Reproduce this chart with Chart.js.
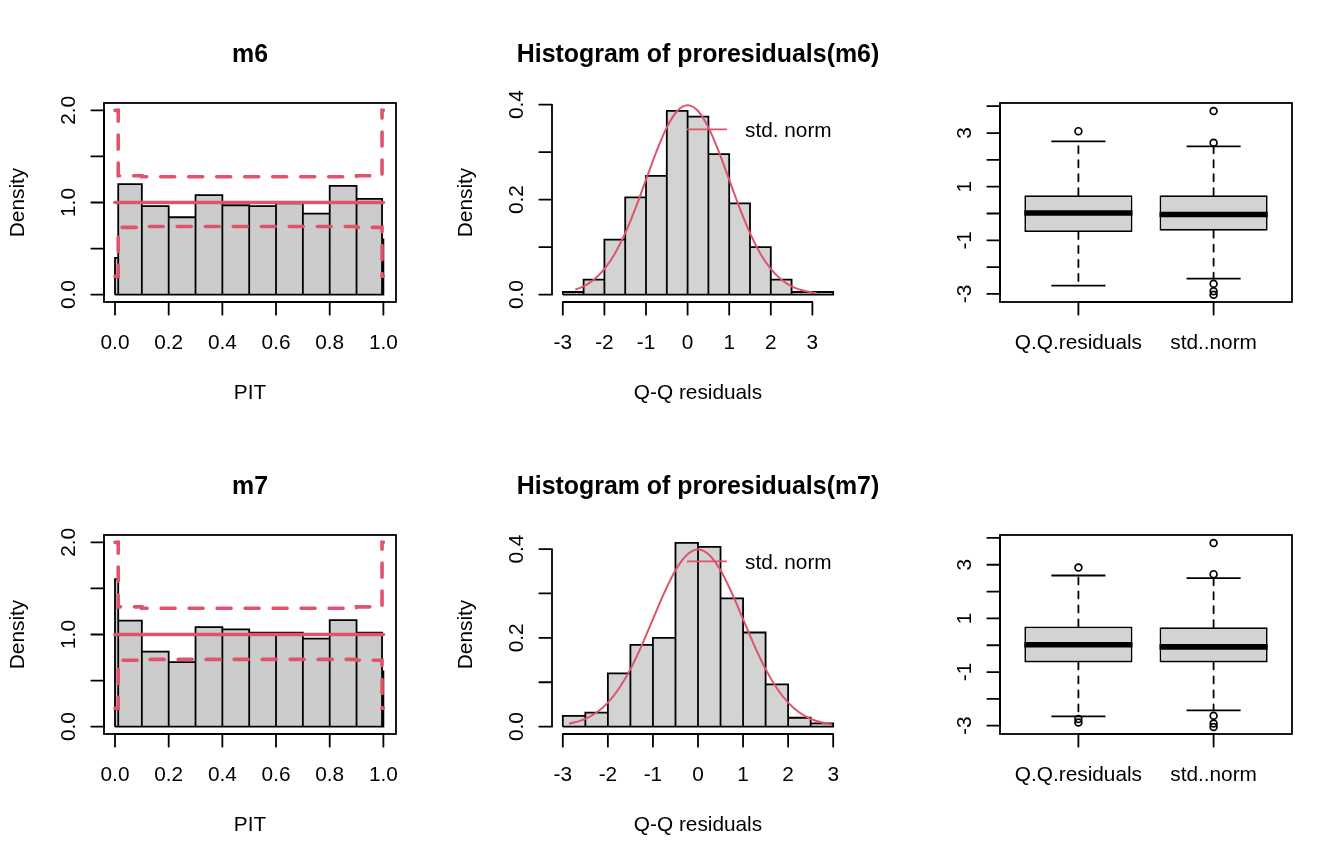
<!DOCTYPE html>
<html>
<head>
<meta charset="utf-8">
<script src="https://cdn.jsdelivr.net/npm/chart.js@4.4.1/dist/chart.umd.min.js"></script>
<style>
  html, body { margin: 0; padding: 0; background: #fff; }
  #page { position: relative; width: 1344px; height: 864px; }
  #page canvas { position: absolute; }
</style>
</head>
<body>
<div id="page">
  <canvas id="pit6" width="448" height="432" style="left:0px;top:0px"></canvas>
  <canvas id="hist6" width="448" height="432" style="left:448px;top:0px"></canvas>
  <canvas id="box6" width="448" height="432" style="left:896px;top:0px"></canvas>
  <canvas id="pit7" width="448" height="432" style="left:0px;top:432px"></canvas>
  <canvas id="hist7" width="448" height="432" style="left:448px;top:432px"></canvas>
  <canvas id="box7" width="448" height="432" style="left:896px;top:432px"></canvas>
</div>
<script>
// ---- PIT histograms ----
const pitBreaks = [0, 0.012, 0.1, 0.2, 0.3, 0.4, 0.5, 0.6, 0.7, 0.8, 0.9, 0.995, 1.0];
const pitDensityM6 = [0.40, 1.20, 0.96, 0.84, 1.08, 0.97, 0.96, 0.99, 0.88, 1.18, 1.04, 0.60];
const pitUpperM6 = [2.0, 1.29, 1.28, 1.28, 1.28, 1.28, 1.28, 1.28, 1.28, 1.28, 1.29, 2.0];
const pitLowerM6 = [0.2, 0.73, 0.74, 0.74, 0.74, 0.74, 0.74, 0.74, 0.74, 0.74, 0.73, 0.2];
const pitDensityM7 = [1.60, 1.15, 0.815, 0.70, 1.08, 1.055, 1.02, 1.02, 0.955, 1.155, 1.02, 0.60];
const pitUpperM7 = [2.0, 1.30, 1.285, 1.285, 1.285, 1.285, 1.285, 1.285, 1.285, 1.285, 1.30, 2.0];
const pitLowerM7 = [0.2, 0.72, 0.73, 0.73, 0.73, 0.73, 0.73, 0.73, 0.73, 0.73, 0.72, 0.2];
const pitRef = 1.0;
const pitTicks = [0, 0.2, 0.4, 0.6, 0.8, 1.0];
const pitTickLabels = ['0.0', '0.2', '0.4', '0.6', '0.8', '1.0'];
const pitDensTicks = [0, 0.5, 1.0, 1.5, 2.0];
const pitDensLabels = ['0.0', '', '1.0', '', '2.0'];

// ---- residual histograms ----
const histBreaksM6 = [-3, -2.5, -2, -1.5, -1, -0.5, 0, 0.5, 1, 1.5, 2, 2.5, 3, 3.5];
const histDensityM6 = [0.0056, 0.0316, 0.116, 0.205, 0.250, 0.387, 0.375, 0.296, 0.192, 0.100, 0.0316, 0.0056, 0.0056];
const histBreaksM7 = [-3, -2.5, -2, -1.5, -1, -0.5, 0, 0.5, 1, 1.5, 2, 2.5, 3];
const histDensityM7 = [0.024, 0.0315, 0.120, 0.184, 0.200, 0.414, 0.405, 0.289, 0.212, 0.095, 0.020, 0.0075];
const normXM6 = [-2.7, -2.5, -2.25, -2, -1.75, -1.5, -1.25, -1, -0.75, -0.5, -0.25, 0, 0.25, 0.5, 0.75, 1, 1.25, 1.5, 1.75, 2, 2.25, 2.5, 2.75, 3, 3.1];
const normYM6 = [0.0104, 0.0175, 0.0317, 0.054, 0.0863, 0.1295, 0.1826, 0.242, 0.3011, 0.3521, 0.3867, 0.3989, 0.3867, 0.3521, 0.3011, 0.242, 0.1826, 0.1295, 0.0863, 0.054, 0.0317, 0.0175, 0.0091, 0.0044, 0.0033];
const normXM7 = [-2.86, -2.75, -2.5, -2.25, -2, -1.75, -1.5, -1.25, -1, -0.75, -0.5, -0.25, 0, 0.25, 0.5, 0.75, 1, 1.25, 1.5, 1.75, 2, 2.25, 2.5, 2.75, 2.97];
const normYM7 = [0.0067, 0.0091, 0.0175, 0.0317, 0.054, 0.0863, 0.1295, 0.1826, 0.242, 0.3011, 0.3521, 0.3867, 0.3989, 0.3867, 0.3521, 0.3011, 0.242, 0.1826, 0.1295, 0.0863, 0.054, 0.0317, 0.0175, 0.0091, 0.0048];
const residTicks = [-3, -2, -1, 0, 1, 2, 3];
const residTickLabels = ['-3', '-2', '-1', '0', '1', '2', '3'];
const histDensTicks = [0, 0.1, 0.2, 0.3, 0.4];
const histDensLabels = ['0.0', '', '0.2', '', '0.4'];

// ---- boxplots ----
const boxGroups = ['Q.Q.residuals', 'std..norm'];
const boxPos = [1, 2];
const boxLoM6 = [-2.69, -2.43];
const boxQ1M6 = [-0.69, -0.64];
const boxMedM6 = [0.02, -0.04];
const boxQ3M6 = [0.68, 0.68];
const boxHiM6 = [2.69, 2.50];
const boxOutM6 = [[3.07], [3.82, 2.64, -2.62, -2.90, -3.03]];
const boxLoM7 = [-2.65, -2.43];
const boxQ1M7 = [-0.64, -0.64];
const boxMedM7 = [0.02, -0.06];
const boxQ3M7 = [0.70, 0.67];
const boxHiM7 = [2.60, 2.50];
const boxOutM7 = [[2.90, -2.75, -2.88], [3.81, 2.65, -2.63, -2.92, -3.05]];
const boxTicks = [-3, -2, -1, 0, 1, 2, 3, 4];
const boxTickLabels = ['-3', '', '-1', '', '1', '', '3', ''];

const RED = '#DF536B';
const LWD = 1.8;
const TCL = 12.7;
const FAMILY = '"Liberation Sans", Arial, Helvetica, sans-serif';

function rAxes(spec) {
  return {
    id: 'rAxes',
    afterDraw(chart) {
      const { ctx, chartArea: a, scales: { x, y } } = chart;
      ctx.save();
      ctx.strokeStyle = '#000';
      ctx.fillStyle = '#000';
      ctx.lineWidth = LWD;
      ctx.lineCap = 'round';
      if (spec.box) ctx.strokeRect(a.left, a.top, a.right - a.left, a.bottom - a.top);

      const xs = spec.xTicks.map(v => x.getPixelForValue(v));
      const ys = spec.yTicks.map(v => y.getPixelForValue(v));
      ctx.beginPath();
      ctx.moveTo(xs[0], a.bottom); ctx.lineTo(xs[xs.length - 1], a.bottom);
      xs.forEach(px => { ctx.moveTo(px, a.bottom); ctx.lineTo(px, a.bottom + TCL); });
      ctx.moveTo(a.left, ys[0]); ctx.lineTo(a.left, ys[ys.length - 1]);
      ys.forEach(py => { ctx.moveTo(a.left, py); ctx.lineTo(a.left - TCL, py); });
      ctx.stroke();

      ctx.font = '20.8px ' + FAMILY;
      ctx.textAlign = 'center';
      ctx.textBaseline = 'alphabetic';
      xs.forEach((px, i) => ctx.fillText(spec.xLabels[i], px, a.bottom + 46.5));
      ys.forEach((py, i) => {
        if (!spec.yLabels[i]) return;
        ctx.save();
        ctx.translate(a.left - 29, py);
        ctx.rotate(-Math.PI / 2);
        ctx.fillText(spec.yLabels[i], 0, 0);
        ctx.restore();
      });
      const cx = (a.left + a.right) / 2, cy = (a.top + a.bottom) / 2;
      if (spec.xTitle) ctx.fillText(spec.xTitle, cx, a.bottom + 96.5);
      if (spec.yTitle) {
        ctx.save();
        ctx.translate(a.left - 80.5, cy);
        ctx.rotate(-Math.PI / 2);
        ctx.fillText(spec.yTitle, 0, 0);
        ctx.restore();
      }
      if (spec.legend) {
        ctx.strokeStyle = RED;
        ctx.lineCap = 'butt';
        ctx.beginPath();
        ctx.moveTo(a.right - 157, a.top + 26.3);
        ctx.lineTo(a.right - 117, a.top + 26.3);
        ctx.stroke();
        ctx.textAlign = 'left';
        ctx.fillText(spec.legend, a.right - 99, a.top + 33.7);
      }
      if (spec.title) {
        ctx.font = 'bold 24.9px ' + FAMILY;
        ctx.textAlign = 'center';
        ctx.fillText(spec.title, cx, a.top - 41.3);
      }
      ctx.restore();
    }
  };
}

function histOutline(breaks, dens) {
  const pts = [{ x: breaks[0], y: 0 }];
  dens.forEach((d, i) => {
    pts.push({ x: breaks[i], y: d }, { x: breaks[i + 1], y: d }, { x: breaks[i + 1], y: 0 });
  });
  pts.push({ x: breaks[0], y: 0 });
  return pts;
}

function stepPoints(breaks, vals) {
  return breaks.map((b, i) => ({ x: b, y: vals[Math.min(i, vals.length - 1)] }));
}

function histDatasets(breaks, dens, fill) {
  return [
    { data: histOutline(breaks, dens), borderColor: '#000', borderWidth: LWD, fill: false },
    { data: stepPoints(breaks, dens), stepped: true, fill: 'origin', backgroundColor: fill, borderWidth: 0 }
  ];
}

function boxDatasets(lo, q1, med, q3, hi, out) {
  const whisk = [], caps = [], meds = [], pts = [];
  boxPos.forEach((p, i) => {
    whisk.push({ x: p, y: q3[i] }, { x: p, y: hi[i] }, { x: p, y: null },
               { x: p, y: q1[i] }, { x: p, y: lo[i] }, { x: p, y: null });
    caps.push({ x: p - 0.2, y: hi[i] }, { x: p + 0.2, y: hi[i] }, { x: p, y: null },
              { x: p - 0.2, y: lo[i] }, { x: p + 0.2, y: lo[i] }, { x: p, y: null });
    meds.push({ x: p - 0.4, y: med[i] }, { x: p + 0.4, y: med[i] }, { x: p, y: null });
    out[i].forEach(v => pts.push({ x: p, y: v }));
  });
  return [
    { data: pts, showLine: false, pointRadius: 3.4, pointBorderWidth: 1.7,
      pointBorderColor: '#000', pointBackgroundColor: 'rgba(0,0,0,0)' },
    { data: caps, borderColor: '#000', borderWidth: LWD },
    { data: meds, borderColor: '#000', borderWidth: 5.6, borderCapStyle: 'butt' },
    { type: 'bar', data: boxPos.map((p, i) => ({ x: p, y: [q1[i], q3[i]] })),
      backgroundColor: '#D3D3D3', borderColor: '#000', borderWidth: LWD, borderSkipped: false,
      grouped: false, categoryPercentage: 1, barPercentage: 0.8 },
    { data: whisk, borderColor: '#000', borderWidth: LWD, borderDash: [7, 7], borderCapStyle: 'round' }
  ];
}

function pitDatasets(dens, upper, lower) {
  const dashed = { borderColor: RED, borderWidth: 3.6, borderDash: [14, 14], borderCapStyle: 'round', stepped: true };
  return [
    Object.assign({ data: stepPoints(pitBreaks, upper) }, dashed),
    Object.assign({ data: stepPoints(pitBreaks, lower) }, dashed),
    { data: [{ x: pitBreaks[0], y: pitRef }, { x: pitBreaks[pitBreaks.length - 1], y: pitRef }],
      borderColor: RED, borderWidth: 3.6, borderCapStyle: 'round' },
    ...histDatasets(pitBreaks, dens, '#CCCCCC')
  ];
}

function normDataset(xs, ys) {
  return { data: xs.map((v, i) => ({ x: v, y: ys[i] })), borderColor: RED, borderWidth: 2,
           cubicInterpolationMode: 'monotone' };
}

function makeChart(id, datasets, xr, yr, spec) {
  return new Chart(document.getElementById(id), {
    type: 'line',
    data: { datasets },
    options: {
      responsive: false,
      animation: false,
      layout: { padding: { left: 104, right: 52, top: 103, bottom: 130 } },
      scales: {
        x: { type: 'linear', display: false, offset: false, min: xr[0], max: xr[1],
             afterBuildTicks: s => { s.ticks = spec.xTicks.map(v => ({ value: v })); } },
        y: { type: 'linear', display: false, min: yr[0], max: yr[1] }
      },
      elements: { point: { radius: 0 }, line: { tension: 0 } },
      plugins: { legend: { display: false }, tooltip: { enabled: false } }
    },
    plugins: [rAxes(spec)]
  });
}

const pitSpec = t => ({ box: true, title: t, xTitle: 'PIT', yTitle: 'Density',
  xTicks: pitTicks, xLabels: pitTickLabels, yTicks: pitDensTicks, yLabels: pitDensLabels });
const histSpec = t => ({ box: false, title: t, xTitle: 'Q-Q residuals', yTitle: 'Density', legend: 'std. norm',
  xTicks: residTicks, xLabels: residTickLabels, yTicks: histDensTicks, yLabels: histDensLabels });
const boxSpec = { box: true, xTicks: boxPos, xLabels: boxGroups, yTicks: boxTicks, yLabels: boxTickLabels };

makeChart('pit6', pitDatasets(pitDensityM6, pitUpperM6, pitLowerM6), [-0.041, 1.047], [-0.08, 2.08], pitSpec('m6'));
makeChart('pit7', pitDatasets(pitDensityM7, pitUpperM7, pitLowerM7), [-0.041, 1.047], [-0.08, 2.08], pitSpec('m7'));

makeChart('hist6', [normDataset(normXM6, normYM6), ...histDatasets(histBreaksM6, histDensityM6, '#D3D3D3')],
  [-3.26, 3.76], [-0.0155, 0.4035], histSpec('Histogram of proresiduals(m6)'));
makeChart('hist7', [normDataset(normXM7, normYM7), ...histDatasets(histBreaksM7, histDensityM7, '#D3D3D3')],
  [-3.24, 3.24], [-0.0166, 0.4316], histSpec('Histogram of proresiduals(m7)'));

makeChart('box6', boxDatasets(boxLoM6, boxQ1M6, boxMedM6, boxQ3M6, boxHiM6, boxOutM6),
  [0.42, 2.58], [-3.30, 4.12], boxSpec);
makeChart('box7', boxDatasets(boxLoM7, boxQ1M7, boxMedM7, boxQ3M7, boxHiM7, boxOutM7),
  [0.42, 2.58], [-3.31, 4.11], boxSpec);
</script>
</body>
</html>
